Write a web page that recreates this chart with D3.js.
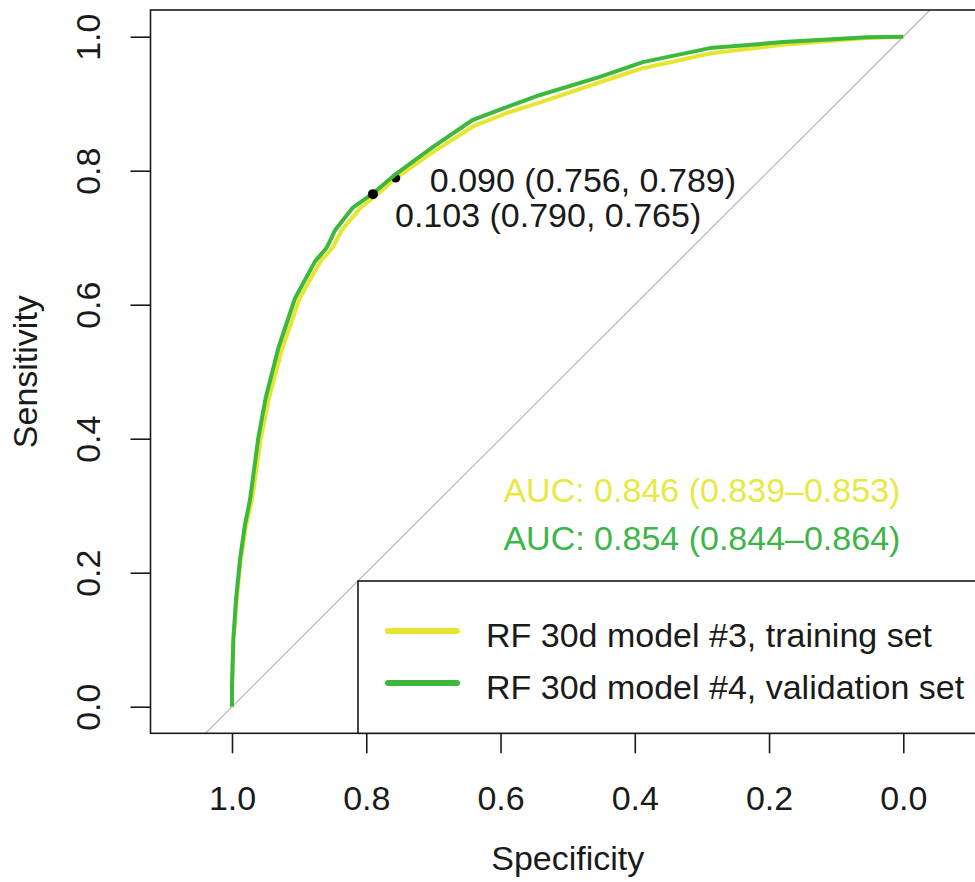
<!DOCTYPE html>
<html>
<head>
<meta charset="utf-8">
<script src="https://cdn.jsdelivr.net/npm/d3@7"></script>
<style>
  html, body { margin: 0; padding: 0; background: #fff; }
  svg { display: block; font-family: "Liberation Sans", Arial, sans-serif; }
</style>
</head>
<body>
<svg id="chart" width="975" height="882"></svg>
<script>
// ROC curve points as [specificity, sensitivity]
const trainingRoc = [
  [1.000, 0.000], [1.000, 0.030], [0.998, 0.100], [0.993, 0.160], [0.987, 0.220],
  [0.979, 0.270], [0.970, 0.310], [0.957, 0.400], [0.945, 0.460], [0.925, 0.535],
  [0.899, 0.610], [0.868, 0.665], [0.850, 0.685], [0.836, 0.712], [0.808, 0.745],
  [0.782, 0.766], [0.756, 0.789], [0.700, 0.828], [0.641, 0.866], [0.591, 0.886],
  [0.541, 0.902], [0.452, 0.932], [0.388, 0.953], [0.288, 0.975], [0.179, 0.988],
  [0.054, 0.998], [0.000, 1.000]
];
const validationRoc = [
  [1.000, 0.000], [1.000, 0.030], [0.998, 0.100], [0.994, 0.160], [0.988, 0.220],
  [0.981, 0.270], [0.973, 0.310], [0.961, 0.400], [0.950, 0.460], [0.931, 0.535],
  [0.906, 0.610], [0.876, 0.665], [0.859, 0.685], [0.846, 0.712], [0.820, 0.745],
  [0.790, 0.766], [0.756, 0.795], [0.700, 0.836], [0.641, 0.876], [0.591, 0.895],
  [0.541, 0.913], [0.452, 0.940], [0.388, 0.962], [0.288, 0.983], [0.179, 0.992],
  [0.054, 0.999], [0.000, 1.000]
];

// Best thresholds: [threshold, specificity, sensitivity]
const trainingThreshold = [0.090, 0.756, 0.789];
const validationThreshold = [0.103, 0.790, 0.765];

const seriesNames = ["RF 30d model #3, training set", "RF 30d model #4, validation set"];
const aucLabels = ["AUC: 0.846 (0.839\u20130.853)", "AUC: 0.854 (0.844\u20130.864)"];
const xTicks = [1.0, 0.8, 0.6, 0.4, 0.2, 0.0];
const yTicks = [0.0, 0.2, 0.4, 0.6, 0.8, 1.0];

// Styling
const colors = ["#e6e632", "#3cb83c"];
const aucTextColors = ["#e8e845", "#3db548"];
const ink = "#1a1a1a";
const fontSize = 34;

const svg = d3.select("#chart");

// Scales: specificity runs right-to-left
const x = d3.scaleLinear().domain([1, 0]).range([232, 903.3]);
const y = d3.scaleLinear().domain([0, 1]).range([706.7, 36.7]);

// Plot region (equal aspect, extends past the right edge of the page)
const box = { left: 150.5, top: 10, right: 985, bottom: 733.3 };

// Diagonal reference line sens = 1 - spec
const diagLo = y.invert(box.bottom);
const diagHi = y.invert(box.top);
svg.append("line")
  .attr("x1", x(1 - diagLo)).attr("y1", y(diagLo))
  .attr("x2", x(1 - diagHi)).attr("y2", y(diagHi))
  .attr("stroke", "#b4b4b4").attr("stroke-width", 1.2);

const line = d3.line().x(d => x(d[0])).y(d => y(d[1]));

// Training curve and its threshold
svg.append("path").datum(trainingRoc)
  .attr("d", line).attr("fill", "none")
  .attr("stroke", colors[0]).attr("stroke-width", 4)
  .attr("stroke-linejoin", "round");
svg.append("circle")
  .attr("cx", x(trainingThreshold[1])).attr("cy", y(trainingThreshold[2]))
  .attr("r", 4.5).attr("fill", "#000");

// Validation curve and its threshold
svg.append("path").datum(validationRoc)
  .attr("d", line).attr("fill", "none")
  .attr("stroke", colors[1]).attr("stroke-width", 4)
  .attr("stroke-linejoin", "round");
svg.append("circle")
  .attr("cx", x(validationThreshold[1])).attr("cy", y(validationThreshold[2]))
  .attr("r", 5).attr("fill", "#000");

// Threshold labels
const fmt = d3.format(".3f");
const thrLabel = t => `${fmt(t[0])} (${fmt(t[1])}, ${fmt(t[2])})`;
svg.append("text")
  .attr("x", x(trainingThreshold[1]) + 34).attr("y", y(trainingThreshold[2]) + 2)
  .attr("dominant-baseline", "central")
  .attr("font-size", fontSize).attr("fill", ink)
  .text(thrLabel(trainingThreshold));
svg.append("text")
  .attr("x", x(validationThreshold[1]) + 22).attr("y", y(validationThreshold[2]) + 21)
  .attr("dominant-baseline", "central")
  .attr("font-size", fontSize).attr("fill", ink)
  .text(thrLabel(validationThreshold));

// AUC labels
const aucPos = [[0.3, 0.323], [0.3, 0.252]];
aucLabels.forEach((t, i) => {
  svg.append("text")
    .attr("x", x(aucPos[i][0])).attr("y", y(aucPos[i][1]))
    .attr("text-anchor", "middle").attr("dominant-baseline", "central")
    .attr("font-size", fontSize).attr("fill", aucTextColors[i])
    .text(t);
});

// Plot frame
svg.append("rect")
  .attr("x", box.left).attr("y", box.top)
  .attr("width", box.right - box.left).attr("height", box.bottom - box.top)
  .attr("fill", "none").attr("stroke", ink).attr("stroke-width", 1.6);

// Bottom axis
const xAxis = svg.append("g")
  .attr("transform", `translate(0,${box.bottom})`)
  .call(d3.axisBottom(x).tickValues(xTicks).tickFormat(d3.format(".1f"))
    .tickSize(20).tickSizeOuter(0).tickPadding(33));
xAxis.select(".domain").remove();
xAxis.selectAll(".tick line").attr("stroke", ink).attr("stroke-width", 1.6);
xAxis.selectAll(".tick text")
  .attr("font-size", fontSize).attr("fill", ink)
  .attr("font-family", "Liberation Sans, Arial, sans-serif");

// Left axis, labels rotated
const yAxis = svg.append("g")
  .attr("transform", `translate(${box.left},0)`)
  .call(d3.axisLeft(y).tickValues(yTicks).tickFormat(d3.format(".1f"))
    .tickSize(20).tickSizeOuter(0));
yAxis.select(".domain").remove();
yAxis.selectAll(".tick line").attr("stroke", ink).attr("stroke-width", 1.6);
yAxis.selectAll(".tick text")
  .attr("x", null).attr("dy", null)
  .attr("text-anchor", "middle")
  .attr("transform", `translate(${100 - box.left},0) rotate(-90)`)
  .attr("font-size", fontSize).attr("fill", ink)
  .attr("font-family", "Liberation Sans, Arial, sans-serif");

// Axis titles
svg.append("text")
  .attr("x", (box.left + box.right) / 2).attr("y", 870)
  .attr("text-anchor", "middle")
  .attr("font-size", fontSize).attr("fill", ink)
  .text("Specificity");
svg.append("text")
  .attr("transform", `translate(37,${(box.top + box.bottom) / 2}) rotate(-90)`)
  .attr("text-anchor", "middle")
  .attr("font-size", fontSize).attr("fill", ink)
  .text("Sensitivity");

// Legend
const legend = svg.append("g");
legend.append("rect")
  .attr("x", 358).attr("y", 581)
  .attr("width", box.right - 358).attr("height", box.bottom - 581)
  .attr("fill", "#fff").attr("stroke", ink).attr("stroke-width", 1.6);
seriesNames.forEach((name, i) => {
  const ly = 631 + i * 52;
  legend.append("line")
    .attr("x1", 388).attr("x2", 457).attr("y1", ly).attr("y2", ly)
    .attr("stroke", colors[i]).attr("stroke-width", 6)
    .attr("stroke-linecap", "round");
  legend.append("text")
    .attr("x", 486).attr("y", ly + 16)
    .attr("font-size", fontSize).attr("fill", ink)
    .text(name);
});
</script>
</body>
</html>
